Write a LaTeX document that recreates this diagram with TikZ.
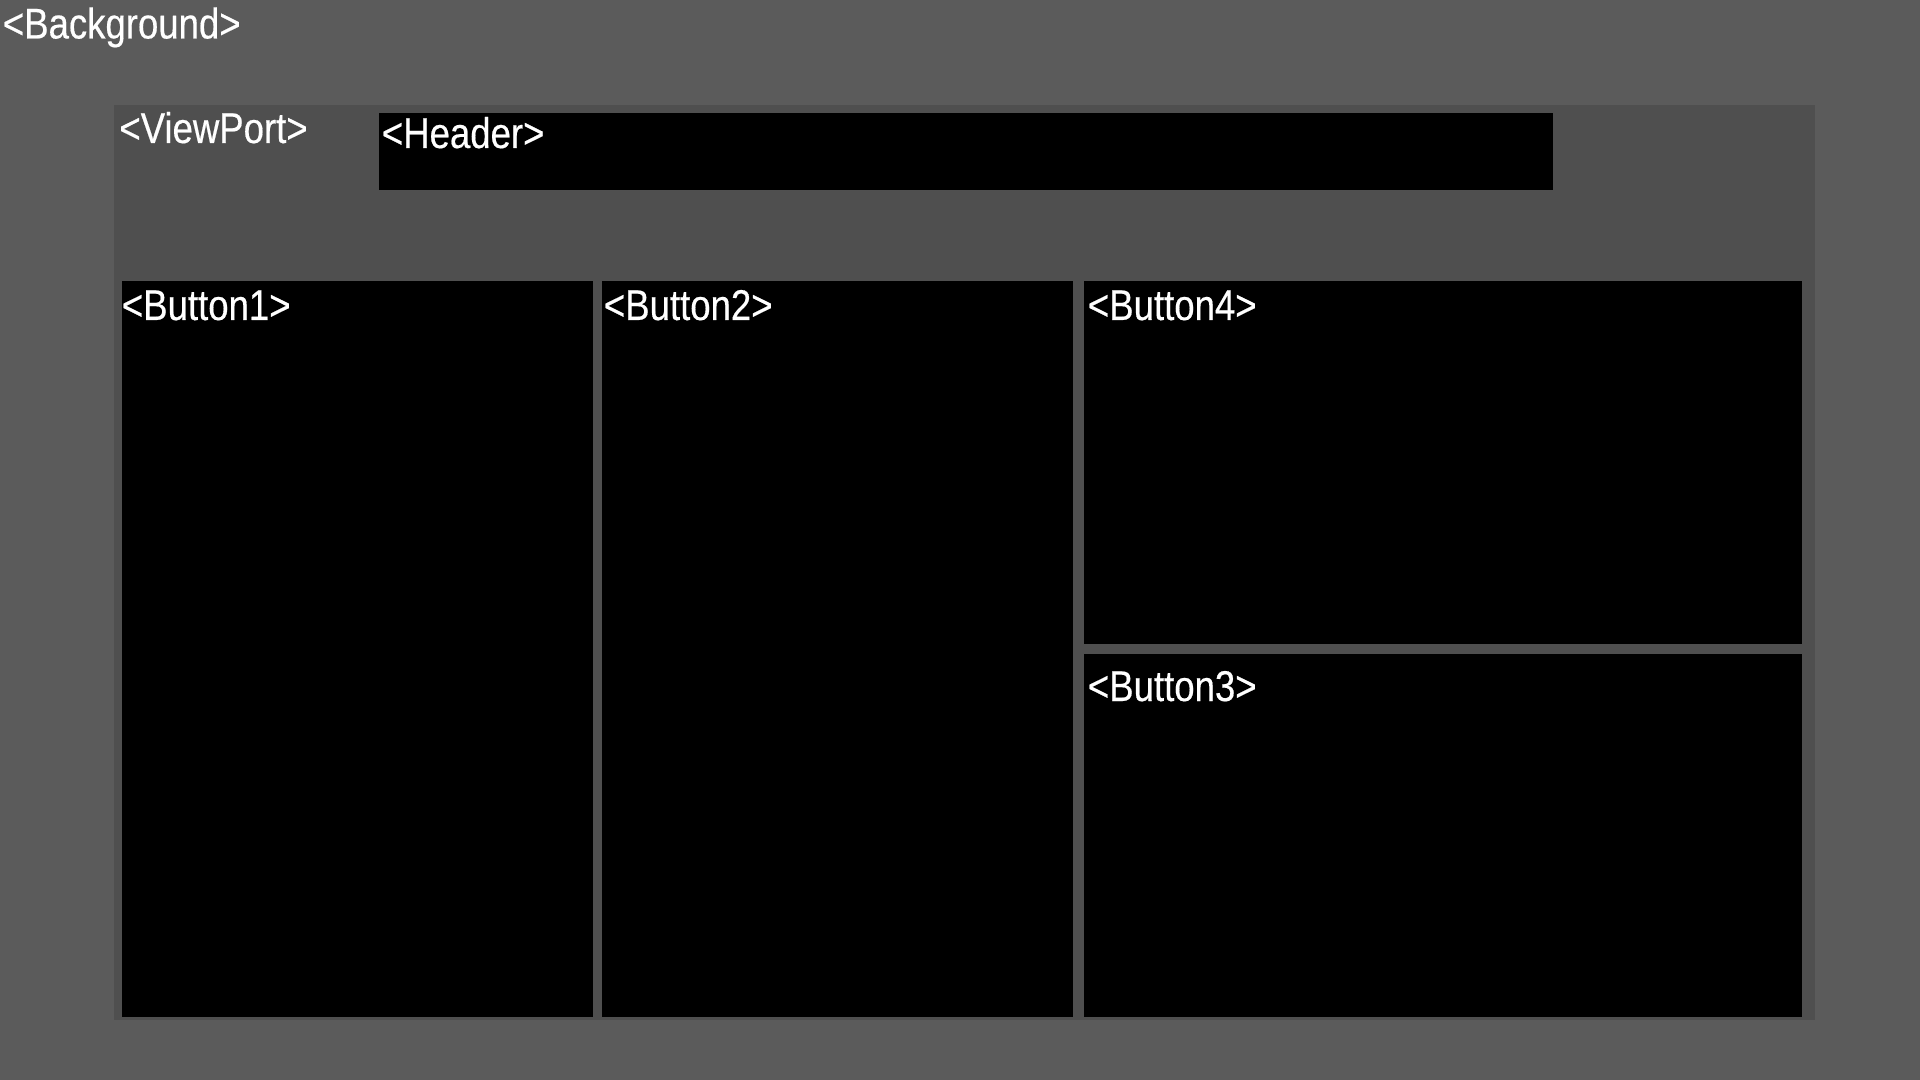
\documentclass[tikz,border=0pt]{standalone}
\usepackage{fontspec}
\setmainfont{Liberation Sans}[FakeStretch=0.85,FakeBold=0.4]
\definecolor{bggray}{HTML}{5B5B5B}
\definecolor{vpgray}{HTML}{4F4F4F}
\begin{document}
\begin{tikzpicture}[x=0.5pt,y=-0.5pt,
    lbl/.style={anchor=base west,inner sep=0pt,text=white,
      font=\fontsize{21.5}{25}\selectfont}]
      \useasboundingbox (0,0) rectangle (1920,1080);
      \fill[bggray] (0,0) rectangle (1920,1080);
      \fill[vpgray] (114,105) rectangle (1815,1020);
      \begin{scope}[black]
        \fill (379,113) rectangle (1553,190);
        \fill (122,281) rectangle (593,1016.5);
        \fill (602,281) rectangle (1073,1016.5);
        \fill (1084,281) rectangle (1802,644);
        \fill (1084,654) rectangle (1802,1016.5);
      \end{scope}
      \node[lbl] (bg) at (2.5,38.5) {<Background>};
      \node[lbl] (vp) at (119,143) {<ViewPort>};
      \node[lbl] (hdr) at (381.5,148) {<Header>};
      \node[lbl] (b1) at (121.5,320) {<Button1>};
      \node[lbl] (b2) at (603.5,320) {<Button2>};
      \node[lbl] (b4) at (1087.5,320) {<Button4>};
      \node[lbl] (b3) at (1087.5,701) {<Button3>};
    \end{tikzpicture}
\end{document}
